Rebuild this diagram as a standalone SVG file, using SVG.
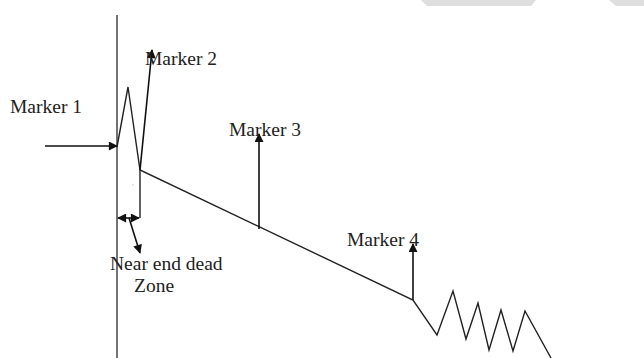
<svg xmlns="http://www.w3.org/2000/svg" width="644" height="358" viewBox="0 0 644 358">
<style>
.ln{stroke:#222;stroke-width:1.4;fill:none}
.ar{stroke:#111;stroke-width:1.6;fill:none}
.t{font-family:"Liberation Serif","Times New Roman",serif;font-size:19.5px;fill:#222}
.bg{fill:#dedede}
</style>
<defs>
<marker id="ah" viewBox="0 0 10 10" refX="9" refY="5" markerWidth="10" markerHeight="9" markerUnits="userSpaceOnUse" orient="auto-start-reverse">
<path d="M0,0 L10,5 L0,10 Z" fill="#111"/>
</marker>
</defs>
<rect width="644" height="358" fill="#fff"/>
<polygon class="bg" points="421,0 536,0 531,6 427,6"/>
<polygon class="bg" points="609,0 644,0 644,6 616,6"/>
<g id="connectors">
<line class="ln" x1="117" y1="15" x2="117" y2="358" style="stroke:#444;stroke-width:1.5"/>
<polyline class="ln" points="117,147 128,87 140,170 413,300 437,335 453,291 466,339 478,303 489,350 501,310 513,351 525,311 551,358"/>
<line class="ln" x1="140" y1="170" x2="140" y2="218"/>
<rect x="132.5" y="184.5" width="1" height="1" fill="#999"/>
<line class="ar" x1="45" y1="146" x2="117" y2="146" marker-end="url(#ah)"/>
<line class="ar" x1="140" y1="170" x2="152" y2="50" marker-end="url(#ah)"/>
<line class="ar" x1="259" y1="229" x2="259" y2="134" marker-end="url(#ah)"/>
<line class="ar" x1="413" y1="300" x2="413" y2="244" marker-end="url(#ah)"/>
<line class="ar" x1="118" y1="218" x2="139" y2="218" marker-start="url(#ah)" marker-end="url(#ah)"/>
<line class="ar" x1="129" y1="218" x2="140" y2="253" marker-end="url(#ah)"/>
</g>
<g id="marker1"><text class="t" x="10" y="113">Marker 1</text></g>
<g id="marker2"><text class="t" x="145" y="65">Marker 2</text></g>
<g id="marker3"><text class="t" x="229" y="136">Marker 3</text></g>
<g id="marker4"><text class="t" x="347" y="246">Marker 4</text></g>
<g id="deadzone"><text class="t" x="110" y="270">Near end dead</text><text class="t" x="134" y="292">Zone</text></g>
</svg>
